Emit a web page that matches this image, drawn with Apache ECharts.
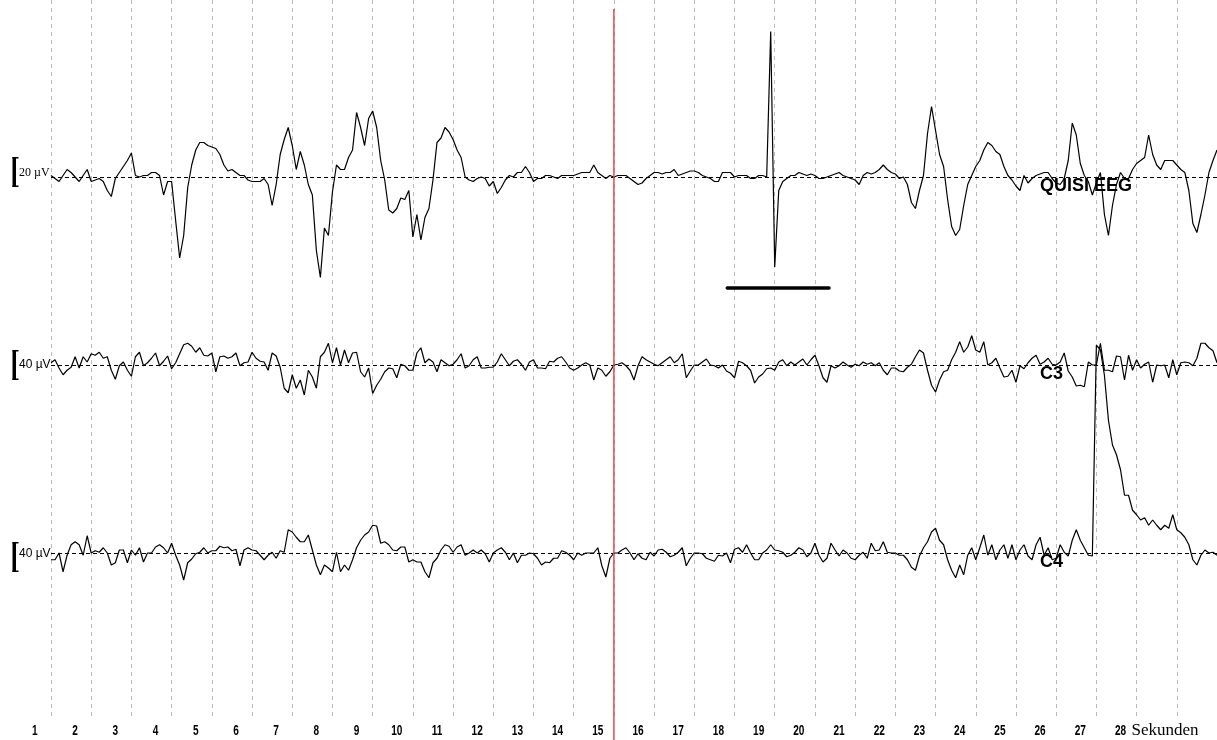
<!DOCTYPE html>
<html><head><meta charset="utf-8">
<script src="https://cdn.jsdelivr.net/npm/echarts@6/dist/echarts.min.js"></script>
<style>html,body{margin:0;padding:0;background:#fff}#c{width:1217px;height:740px}</style>
</head><body><div id="c"></div>
<script>
// ---- data (µV, one sample every 0.1 s) ----
const DT = 0.1;
const T_MAX = 29;
const TICK_LABELS = ['1','2','3','4','5','6','7','8','9','10','11','12','13','14','15','16','17','18','19','20','21','22','23','24','25','26','27','28'];
const AXIS_TITLE = 'Sekunden';
const CHANNEL_NAMES = ['QUISI EEG', 'C3', 'C4'];
const CAL_UV = [20, 40, 40];
const CURSOR_T = 14;
const EVENT_SPAN = [16.82, 19.35];
const EVENT_LEVEL_UV = -74;

const QUISI = [
 1,-1,-3,1,5,3,0,-3,1,5,
 -3,-2,-1,-3,-9,-13,-1,3,7,11,
 16,1,0,1,1,3,3,1,-12,-3,
 -3,-29,-54,-39,-7,8,18,23,23,21,
 20,19,15,8,4,5,3,1,1,-2,
 -3,-3,-3,-1,-5,-19,-5,15,25,33,
 21,5,17,8,-5,-12,-49,-67,-34,-39,
 -10,8,5,5,13,18,43,33,21,39,
 44,33,11,-2,-22,-24,-21,-14,-15,-9,
 -40,-25,-42,-27,-21,-2,23,26,33,30,
 25,18,13,0,-2,-3,-1,0,-1,-6,
 -3,-11,-7,-2,1,0,3,3,7,3,
 -3,-1,-1,1,1,0,-1,1,1,1,
 1,2,3,3,3,8,3,1,-1,1,
 0,1,1,1,-1,-3,-5,-4,-1,1,
 3,3,2,3,3,5,1,2,3,4,
 4,3,1,0,-1,-3,-3,3,3,3,
 0,1,1,1,-1,-1,1,1,0,97,
 -60,-9,-3,-1,1,1,3,2,1,2,
 1,-1,-1,0,1,2,3,1,0,-1,
 -2,-5,1,3,2,3,5,8,5,3,
 2,-1,0,-5,-17,-21,-9,1,29,47,
 31,15,7,-15,-33,-39,-35,-19,-5,1,
 7,11,18,23,21,17,15,7,1,-2,
 -6,-9,1,-4,-1,1,2,3,3,-1,
 -4,-5,-1,11,36,28,9,1,-3,-12,
 -4,3,-25,-39,-19,-5,3,-1,-1,5,
 9,11,13,28,15,8,5,11,11,11,
 8,5,3,-9,-31,-37,-25,-12,3,11,
 18
];
const C3 = [
 3,7,-4,-13,-7,-3,11,-4,11,4,
 15,13,17,9,11,-7,-19,-1,4,-7,
 -15,11,17,-1,3,9,16,-1,5,12,
 -5,3,15,27,29,25,17,23,13,12,
 16,-9,11,12,9,11,16,-1,3,4,
 17,9,5,4,-7,16,12,-3,-31,-37,
 -13,-31,-20,-40,-7,-16,-31,11,17,29,
 3,23,0,20,3,16,17,-9,-16,-4,
 -38,-27,-19,-9,-4,-5,-17,1,-1,-7,
 -7,16,23,3,8,4,-9,7,3,-1,
 1,7,15,-4,-1,7,11,-4,-4,-3,
 -3,4,15,7,-1,5,7,1,-7,4,
 7,-4,-4,-5,5,4,9,11,4,-4,
 -7,-4,0,3,0,-20,-4,-7,-15,-9,
 0,1,3,-1,-7,-20,-1,11,7,4,
 1,-1,3,7,11,3,7,15,-17,-8,
 0,0,4,8,0,-1,-4,0,-8,-11,
 -17,5,3,-1,-7,-24,-16,-12,-5,-4,
 -7,4,7,-1,4,0,4,8,0,7,
 13,-1,-17,-23,-1,-4,-1,4,0,-3,
 1,-1,4,1,3,-1,3,-7,-13,-4,
 -4,-8,-9,-3,1,11,20,16,-7,-27,
 -36,-20,-9,-7,7,17,31,17,24,39,
 20,17,31,0,3,9,-4,-16,-15,-7,
 -23,-1,-5,3,9,13,1,4,9,1,
 0,4,16,-8,-16,-28,-27,-29,4,0,
 0,29,-7,-7,-9,12,11,-20,13,-7,
 7,-4,1,4,-23,0,-1,0,-17,7,
 -13,3,4,3,-1,9,29,29,23,19,
 3
];
const C4 = [
 -9,-9,0,-25,-3,11,15,11,-3,23,
 0,3,1,7,0,-16,-13,4,4,-13,
 4,-3,7,-12,0,0,8,11,7,0,
 13,-3,-16,-36,-13,-8,-1,1,7,0,
 3,3,9,7,8,3,5,-17,4,7,
 4,3,-3,-9,-3,1,-7,3,1,31,
 28,21,15,15,24,4,-16,-29,-16,-20,
 -25,1,-25,-16,-23,-9,7,17,24,28,
 37,36,13,15,11,4,3,8,8,-12,
 -9,-12,-12,-25,-33,-13,-7,4,11,9,
 1,8,11,-3,0,4,0,4,-1,-12,
 0,4,7,1,-9,0,-13,-3,-3,0,
 -1,-7,-16,-12,-13,-7,-7,3,1,-3,
 -9,0,-3,0,0,0,7,-17,-32,-7,
 0,0,4,7,0,-9,-1,-7,-9,1,
 -4,4,5,1,-5,-3,1,7,-17,-7,
 0,0,-1,-7,-9,-11,-3,-4,0,-13,
 5,7,1,11,0,-9,-9,0,4,11,
 4,3,1,-5,-3,1,7,4,-5,0,
 13,-3,-12,-7,13,4,-4,4,0,-7,
 -9,-3,1,-7,13,3,4,15,1,0,
 0,-3,-3,-9,-19,-23,-4,7,15,28,
 33,17,11,-9,-23,-33,-16,-29,-3,7,
 -9,7,24,-3,11,-9,4,11,-7,11,
 -9,4,11,-4,-9,11,21,-3,7,-9,
 -7,11,1,-4,17,31,17,7,-3,-4,
 277,271,237,177,144,131,111,77,77,57,
 51,44,47,37,44,37,31,37,33,51,
 31,27,21,11,-9,-16,-3,4,0,1,
 -3
];

// ---- layout / style ----
const W = 1217, H = 740;
const GRID_LEFT = 51, GRID_TOP = 0, GRID_H = 720;
const BASE_PX = [177, 365, 553];       // pixel row of each channel's zero line
const PX_PER_UV = [1.5, 0.75, 0.75];
const CAL_TOP_PX = [157, 350, 542];
const CAL_TEXT_Y = [173, 365, 554];
const CAL_FONT = ['"Liberation Serif", "DejaVu Serif", serif', '"Liberation Sans", Arial, sans-serif', '"Liberation Sans", Arial, sans-serif'];
const NAME_X = 1040, NAME_DY = 9;
const LABEL_T_OFFSET = -0.4;   // tick label sits left of its grid line
const LABEL_Y = 731;

const toXY = arr => arr.map((v, i) => [Math.round(i * DT * 1000) / 1000, v]);
const SIGNALS = [QUISI, C3, C4];

const chart = echarts.init(document.getElementById('c'), null, {renderer: 'canvas'});

const yAxes = BASE_PX.map((b, k) => ({
  type: 'value', gridIndex: 0, show: false,
  min: -(GRID_H - b) / PX_PER_UV[k], max: (b - GRID_TOP) / PX_PER_UV[k],
  splitLine: {show: false}
}));
yAxes.push({type: 'value', gridIndex: 1, show: false, min: 0, max: 1, splitLine: {show: false}});

const series = SIGNALS.map((arr, k) => ({
  type: 'line', xAxisIndex: 0, yAxisIndex: k, name: CHANNEL_NAMES[k],
  data: toXY(arr), symbol: 'none', clip: false, animation: false, silent: true,
  lineStyle: {color: '#000', width: 1.2}, z: 5,
  markLine: {silent: true, symbol: 'none', animation: false,
    label: {show: false},
    lineStyle: {color: '#000', width: 1, type: [4, 3]},
    data: [{yAxis: 0}]}
}));
series.push({
  type: 'line', xAxisIndex: 0, yAxisIndex: 0, symbol: 'none', animation: false, silent: true,
  data: [[EVENT_SPAN[0], EVENT_LEVEL_UV], [EVENT_SPAN[1], EVENT_LEVEL_UV]],
  lineStyle: {color: '#000', width: 3.5, cap: 'round'}, z: 6
});
series.push({
  type: 'line', xAxisIndex: 1, yAxisIndex: 3, symbol: 'none', animation: false, silent: true,
  data: [[CURSOR_T, 0], [CURSOR_T, 1]],
  lineStyle: {color: '#f04848', width: 1.5}, z: 7
});

chart.setOption({
  animation: false,
  backgroundColor: '#fff',
  grid: [
    {left: GRID_LEFT, top: GRID_TOP, width: W - GRID_LEFT, height: GRID_H, containLabel: false},
    {left: GRID_LEFT, top: 9, width: W - GRID_LEFT, height: H - 9, containLabel: false}
  ],
  xAxis: [
    {type: 'value', gridIndex: 0, min: 0, max: T_MAX, interval: 1,
     axisLine: {show: false}, axisTick: {show: false}, axisLabel: {show: false},
     splitLine: {show: true, showMinLine: true, showMaxLine: false, lineStyle: {color: '#bcbcbc', width: 1, type: [4, 4]}}},
    {type: 'value', gridIndex: 1, min: 0, max: T_MAX, show: false, splitLine: {show: false}}
  ],
  yAxis: yAxes,
  series: series
});

const graphics = [];
BASE_PX.forEach((b, k) => {
  const top = CAL_TOP_PX[k], h = CAL_UV[k] * PX_PER_UV[k];
  graphics.push({type: 'rect', shape: {x: 12.5, y: top, width: 3.5, height: h}, style: {fill: '#000'}, z: 100});
  graphics.push({type: 'rect', shape: {x: 12.5, y: top, width: 6, height: 1.5}, style: {fill: '#000'}, z: 100});
  graphics.push({type: 'rect', shape: {x: 12.5, y: top + h - 1.5, width: 6, height: 1.5}, style: {fill: '#000'}, z: 100});
  graphics.push({type: 'text', x: 19, y: CAL_TEXT_Y[k], z: 100,
    style: {text: CAL_UV[k] + ' µV', fill: '#000', font: '12px ' + CAL_FONT[k], verticalAlign: 'middle'}});
  graphics.push({type: 'text', x: NAME_X, y: b + NAME_DY, z: 100,
    style: {text: CHANNEL_NAMES[k], fill: '#000', font: 'bold 18px "Liberation Sans", Arial, sans-serif', verticalAlign: 'middle'}});
});
TICK_LABELS.forEach((lab, i) => {
  const px = chart.convertToPixel({xAxisIndex: 0}, i + LABEL_T_OFFSET);
  graphics.push({type: 'text', x: px, y: LABEL_Y, scaleX: 0.72, z: 100,
    style: {text: lab, fill: '#000', font: 'bold 14px "Liberation Sans", Arial, sans-serif', align: 'center', verticalAlign: 'middle'}});
});
const titlePx = chart.convertToPixel({xAxisIndex: 0}, TICK_LABELS.length - 1 + LABEL_T_OFFSET) + 11;
graphics.push({type: 'text', x: titlePx, y: LABEL_Y, z: 100,
  style: {text: AXIS_TITLE, fill: '#000', font: '17px "Liberation Serif", "DejaVu Serif", serif', verticalAlign: 'middle'}});
chart.setOption({graphic: graphics});
</script></body></html>
